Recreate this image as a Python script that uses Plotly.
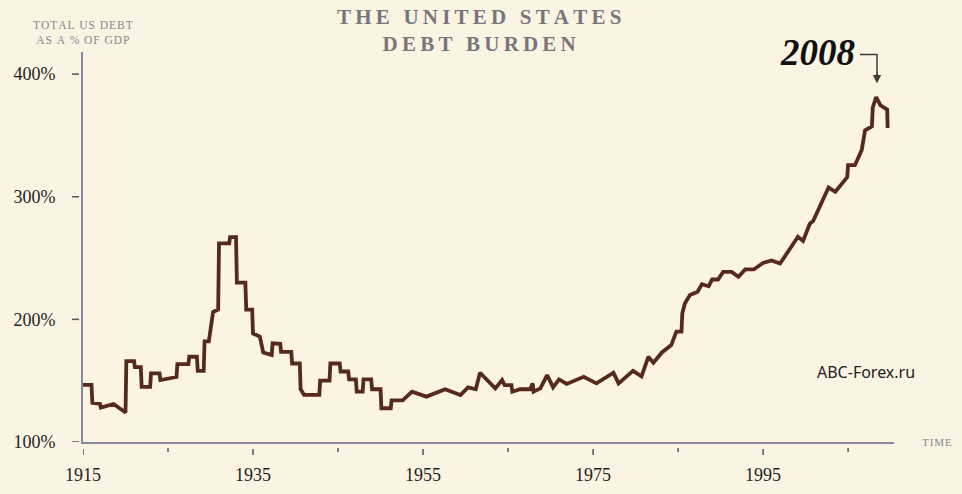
import plotly.graph_objects as go

# ---- data ----
years = [1915.0, 1916.0, 1916.1, 1917.0, 1917.1, 1918.6, 1920.0, 1920.1, 1921.0, 1921.1,
         1921.8, 1921.9, 1922.9, 1923.0, 1924.0, 1924.1, 1926.0, 1926.1, 1927.4, 1927.5,
         1928.4, 1928.5, 1929.2, 1929.3, 1929.8, 1930.3, 1930.9, 1931.0, 1932.2, 1932.3,
         1933.0, 1933.1, 1934.1, 1934.2, 1934.9, 1935.0, 1935.8, 1936.2, 1937.2, 1937.3,
         1938.2, 1938.3, 1939.5, 1939.6, 1940.5, 1940.6, 1941.0, 1942.8, 1942.9, 1944.0,
         1944.1, 1945.2, 1945.3, 1946.2, 1946.3, 1947.1, 1947.2, 1947.9, 1948.0, 1948.9,
         1949.0, 1950.0, 1950.1, 1951.2, 1951.3, 1952.6, 1953.7, 1955.4, 1957.6, 1959.4,
         1960.3, 1961.2, 1961.7, 1963.5, 1964.3, 1964.6, 1965.4, 1965.5, 1966.4, 1967.6,
         1967.9, 1968.0, 1968.8, 1969.6, 1970.3, 1971.0, 1971.9, 1973.9, 1975.4, 1977.4,
         1978.0, 1979.7, 1980.7, 1981.5, 1982.1, 1983.1, 1984.2, 1984.8, 1985.4, 1985.5,
         1985.8, 1986.4, 1987.3, 1987.8, 1988.6, 1989.0, 1989.7, 1990.3, 1991.3, 1992.1,
         1992.9, 1993.9, 1995.0, 1996.0, 1997.0, 1999.1, 1999.7, 2000.5, 2000.9, 2002.7,
         2003.5, 2004.9, 2005.0, 2005.8, 2006.6, 2007.0, 2007.8, 2007.9, 2008.3, 2008.8,
         2009.6, 2009.65]
debt_pct = [146.5, 146.5, 132, 131, 128, 131, 124, 166, 166, 161,
            161, 145, 145, 156, 156, 150.5, 153, 163.5, 163.5, 169.5,
            169.5, 158, 158, 182, 182, 206, 208, 262, 262, 267,
            267, 230, 230, 208, 208, 188.5, 186, 173, 171, 180.5,
            180, 173.5, 173.5, 164, 164, 143, 138.5, 138.5, 150, 150,
            164, 164, 157.5, 157.5, 151, 151, 141, 141, 151, 151,
            143, 143, 127.5, 127.5, 134, 134, 141, 137, 143, 138.3,
            144.6, 143, 156.5, 143.7, 150.5, 146.4, 146.4, 141, 143, 143,
            147.8, 141, 143.7, 154.6, 144.6, 151, 147.3, 153.2, 147.8, 156.5,
            147.8, 158, 153.5, 169.5, 164.6, 173, 179, 190, 190, 205,
            213, 219.8, 222.5, 228.7, 227, 232.5, 232.5, 238.7, 238.7, 234.7,
            240.7, 240.7, 246, 248, 245.5, 267.3, 264, 278, 280.3, 307.5,
            304, 316, 325.7, 325.7, 338, 354.2, 357.4, 372.7, 381.3, 374.6,
            371, 356]

x_ticks = [1915, 1935, 1955, 1975, 1995]
x_minor = [1925, 1945, 1965, 1985, 2005]
y_ticks = [100, 200, 300, 400]

X_RANGE = [1915, 2010.4]
Y_RANGE = [100, 418]

BG = "#FBF4E3"
AXIS = "#8787A2"
LINE = "#56291D"
TICK = "#55555F"
SERIF = "Liberation Serif, DejaVu Serif, serif"


def spaced(s, sep):
    """Letter-spacing emulation: put a thin space between letters."""
    return sep.join(s)


THIN = "\u2009"
HAIR = "\u200A"

fig = go.Figure()
fig.add_trace(go.Scatter(x=years, y=debt_pct, mode="lines",
                         line=dict(color=LINE, width=3.8),
                         hoverinfo="skip", showlegend=False))

fig.update_layout(
    width=962, height=494,
    margin=dict(l=83, r=68, t=52, b=52),
    paper_bgcolor=BG, plot_bgcolor=BG,
    showlegend=False,
    xaxis=dict(range=X_RANGE, showgrid=False, zeroline=False, automargin=False,
               showline=True, linecolor=AXIS, linewidth=2,
               tickvals=x_ticks, ticktext=[str(v) for v in x_ticks],
               ticks="", ticklabelstandoff=15,
               tickfont=dict(family=SERIF, size=18, color="#1E1E1E")),
    yaxis=dict(range=Y_RANGE, showgrid=False, zeroline=False, automargin=False,
               showline=True, linecolor=AXIS, linewidth=2,
               tickvals=y_ticks, ticktext=[f"{v}%" for v in y_ticks],
               ticks="", ticklabelstandoff=22,
               tickfont=dict(family=SERIF, size=18, color="#1E1E1E")),
)

# detached tick marks (as in the original)
ph = 494 - 52 - 52
pw = 962 - 83 - 68
shapes = []
for v in x_ticks:
    shapes.append(dict(type="line", xref="x", yref="paper", x0=v, x1=v,
                       y0=-7 / ph, y1=-13 / ph, line=dict(color=TICK, width=1.5)))
for v in x_minor:
    shapes.append(dict(type="line", xref="x", yref="paper", x0=v, x1=v,
                       y0=-6 / ph, y1=-10 / ph, line=dict(color=TICK, width=1.5)))
for v in y_ticks:
    shapes.append(dict(type="line", xref="paper", yref="y", x0=-4 / pw, x1=-11 / pw,
                       y0=v, y1=v, line=dict(color=TICK, width=1.5)))
# 2008 call-out bracket
shapes.append(dict(type="path", xref="x", yref="y",
                   path="M 2006.4 416.0 L 2008.4 416.0 L 2008.4 395",
                   line=dict(color="#3A3A3A", width=1.5)))
fig.update_layout(shapes=shapes)

title_l1 = spaced("THE UNITED STATES", THIN)
title_l2 = spaced("DEBT BURDEN", THIN)
ylab_l1 = spaced("TOTAL US DEBT", HAIR)
ylab_l2 = spaced("AS A % OF GDP", HAIR)

annotations = [
    dict(text=f"<b>{title_l1}<br>{title_l2}</b>", xref="paper", yref="paper",
         x=(478.5 - 83) / pw, y=1.0, yshift=49, xanchor="center", yanchor="top",
         showarrow=False, font=dict(family=SERIF, size=21, color="#79757C")),
    dict(text=f"{ylab_l1}<br>{ylab_l2}", xref="paper", yref="paper",
         x=0, y=1.0, yshift=35, xanchor="center", yanchor="top", showarrow=False,
         font=dict(family=SERIF, size=11.5, color="#8A8690")),
    dict(text=spaced("TIME", HAIR), xref="paper", yref="y", x=1.0, xshift=43,
         y=Y_RANGE[0], yshift=0, xanchor="center", yanchor="middle", showarrow=False,
         font=dict(family=SERIF, size=11, color="#8A8690")),
    dict(text="<b><i>2008</i></b>", xref="x", yref="y", x=2006.1, y=418,
         xanchor="right", yanchor="middle", showarrow=False,
         font=dict(family=SERIF, size=37, color="#111111")),
    dict(text="", xref="x", yref="y", x=2008.4, y=392.5, ax=0, ay=-12,
         showarrow=True, arrowhead=2, arrowsize=1.1, arrowwidth=1.5,
         arrowcolor="#3A3A3A"),
    dict(text="ABC-Forex.ru", xref="paper", yref="paper", x=(866 - 83) / pw,
         y=(442 - 372) / ph, xanchor="center", yanchor="middle", showarrow=False,
         font=dict(family="Noto Sans, Open Sans, sans-serif", size=16, color="#222222")),
]
fig.update_layout(annotations=annotations)

fig.write_html("out.html")
